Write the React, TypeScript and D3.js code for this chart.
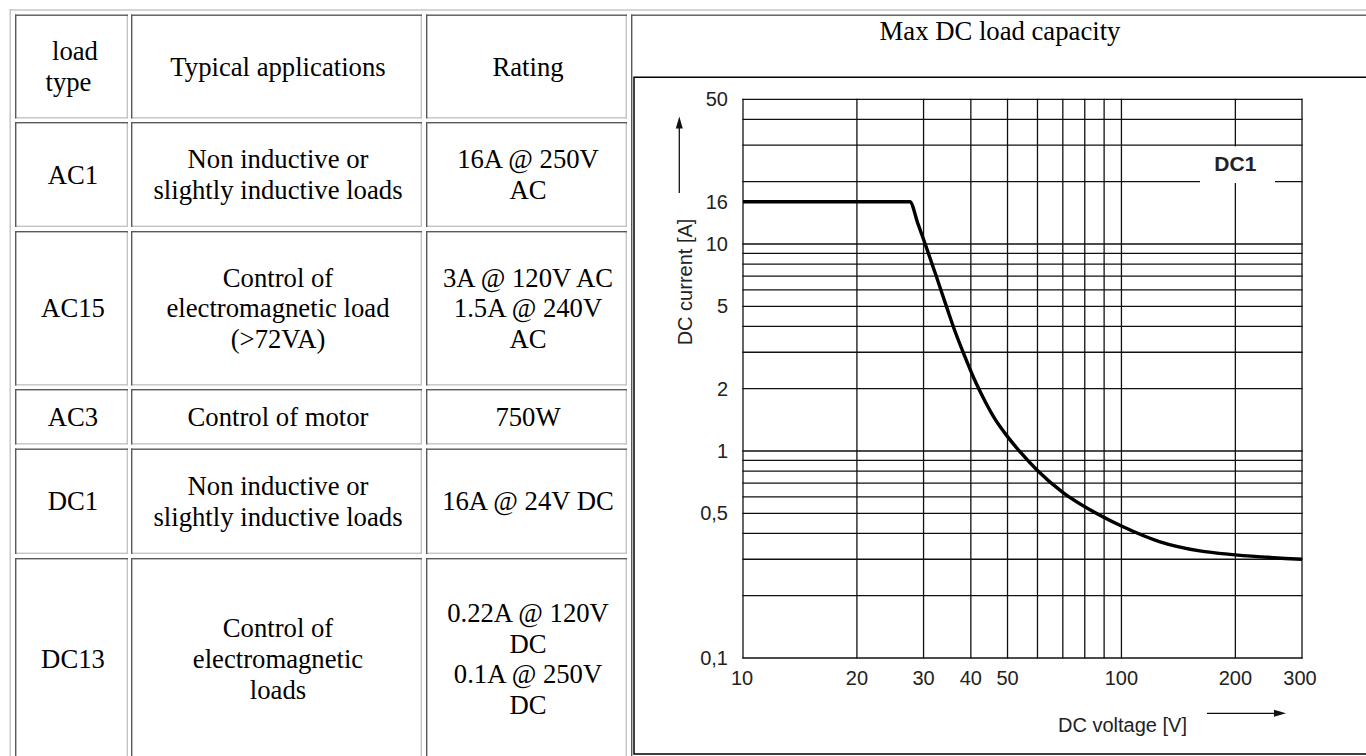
import React, { useEffect, useRef } from "react";
import * as d3 from "d3";

// table content
const headerCells = [["load", "type"], ["Typical applications"], ["Rating"]];
const loadTypes = ["AC1", "AC15", "AC3", "DC1", "DC13"];
const applications = [
  ["Non inductive or", "slightly inductive loads"],
  ["Control of", "electromagnetic load", "(>72VA)"],
  ["Control of motor"],
  ["Non inductive or", "slightly inductive loads"],
  ["Control of", "electromagnetic", "loads"],
];
const ratings = [
  ["16A @ 250V", "AC"],
  ["3A @ 120V AC", "1.5A @ 240V", "AC"],
  ["750W"],
  ["16A @ 24V DC"],
  ["0.22A @ 120V", "DC", "0.1A @ 250V", "DC"],
];

// chart content
const chartTitle = "Max DC load capacity";
const voltageTicks = [10, 20, 30, 40, 50, 100, 200, 300];
const currentTicks = [50, 16, 10, 5, 2, 1, 0.5, 0.1];
const currentTickLabels = ["50", "16", "10", "5", "2", "1", "0,5", "0,1"];
const curveVoltage = [10, 27.6, 29.0, 30.3, 32.4, 34.6, 36.3, 38.6, 41.0, 43.6, 46.3, 49.2, 54.0, 59.8, 70.1, 82.6, 100, 126.5, 161, 200, 300];
const curveCurrent = [16, 16, 12.5, 10, 7.0, 4.9, 3.8, 2.85, 2.19, 1.74, 1.43, 1.22, 0.99, 0.81, 0.63, 0.52, 0.434, 0.364, 0.329, 0.315, 0.3];
const seriesLabel = "DC1";

const W = 1366;
const H = 756;

export default function App() {
  const ref = useRef(null);

  useEffect(() => {
    const svg = d3.select(ref.current);
    svg.selectAll("*").remove();
    svg.attr("width", W).attr("height", H);

    const serif = "'Liberation Serif', 'Times New Roman', serif";
    const sans = "'Liberation Sans', Arial, Helvetica, sans-serif";
    const fs = 26.7;
    const lh = 30.7;
    const bw = 1.4;

    svg.append("rect").attr("width", W).attr("height", H).attr("fill", "#fff");

    // outer table border (outset: only top/left are on screen)
    svg.append("rect").attr("x", 9.5).attr("y", 9.3).attr("width", W).attr("height", bw).attr("fill", "#c4c4c4");
    svg.append("rect").attr("x", 9.5).attr("y", 9.3).attr("width", bw).attr("height", H).attr("fill", "#c4c4c4");

    const colX = [[15, 128], [131, 422], [426, 627]];
    const rowY = [[14.5, 118.5], [122, 227], [231, 385.5], [389, 444.5], [448.5, 554], [558, 760]];

    const cell = (x0, y0, x1, y1) => {
      const g = svg.append("g");
      g.append("rect").attr("x", x0).attr("y", y1 - bw).attr("width", x1 - x0).attr("height", bw).attr("fill", "#c4c4c4");
      g.append("rect").attr("x", x1 - bw).attr("y", y0).attr("width", bw).attr("height", y1 - y0).attr("fill", "#c4c4c4");
      g.append("rect").attr("x", x0).attr("y", y0).attr("width", x1 - x0).attr("height", bw).attr("fill", "#595959");
      g.append("rect").attr("x", x0).attr("y", y0).attr("width", bw).attr("height", y1 - y0).attr("fill", "#595959");
    };

    const cellText = (lines, x0, y0, x1, y1, offsets) => {
      const cx = (x0 + x1) / 2 + 1.5;
      const top = (y0 + y1) / 2 - (lines.length * lh) / 2;
      svg
        .append("g")
        .selectAll("text")
        .data(lines)
        .enter()
        .append("text")
        .attr("x", (d, i) => cx + (offsets ? offsets[i] : 0))
        .attr("y", (d, i) => top + i * lh + 24.4)
        .attr("text-anchor", "middle")
        .style("font-family", serif)
        .style("font-size", fs + "px")
        .attr("fill", "#000")
        .text((d) => d);
    };

    const rows = [headerCells].concat(
      loadTypes.map((t, i) => [[t], applications[i], ratings[i]])
    );

    rows.forEach((row, r) => {
      const [y0, y1] = rowY[r];
      row.forEach((lines, c) => {
        const [x0, x1] = colX[c];
        cell(x0, y0, x1, y1);
        const offs = r === 0 && c === 0 ? [2, -4.5] : null;
        cellText(lines, x0, y0, x1, y1, offs);
      });
    });

    // chart cell (rowspan)
    cell(631, 14.5, 1369, 760);
    svg
      .append("text")
      .attr("x", 1000)
      .attr("y", 40)
      .attr("text-anchor", "middle")
      .style("font-family", serif)
      .style("font-size", fs + "px")
      .text(chartTitle);

    // image frame
    svg
      .append("path")
      .attr("d", `M${W + 10},77.3 H634 V754 H${W + 10}`)
      .attr("fill", "none")
      .attr("stroke", "#000")
      .attr("stroke-width", 1.5);

    const x = d3.scaleLog().domain([10, 300]).range([743, 1302]);
    const y = d3.scaleLog().domain([0.1, 50]).range([658, 99.3]);

    const grid = svg.append("g").attr("stroke", "#111").attr("stroke-width", 1.3);
    grid
      .selectAll("line.v")
      .data(x.ticks())
      .enter()
      .append("line")
      .attr("class", "v")
      .attr("x1", (d) => x(d))
      .attr("x2", (d) => x(d))
      .attr("y1", y(0.1) + 0.6)
      .attr("y2", y(50) - 0.6);
    grid
      .selectAll("line.h")
      .data(y.ticks())
      .enter()
      .append("line")
      .attr("class", "h")
      .attr("x1", x(10) - 0.6)
      .attr("x2", x(300) + 0.6)
      .attr("y1", (d) => y(d))
      .attr("y2", (d) => y(d));

    // gap behind the DC1 label
    svg
      .append("rect")
      .attr("x", 1200)
      .attr("y", y(30) + 1.2)
      .attr("width", 75)
      .attr("height", y(20) - y(30) + 0.2)
      .attr("fill", "#fff");
    svg
      .append("text")
      .attr("x", x(200))
      .attr("y", 171)
      .attr("text-anchor", "middle")
      .style("font-family", sans)
      .style("font-size", "21px")
      .style("font-weight", "bold")
      .attr("fill", "#222")
      .text(seriesLabel);

    // curve
    const pts = curveVoltage.map((v, i) => [v, curveCurrent[i]]);
    const line = d3
      .line()
      .x((d) => x(d[0]))
      .y((d) => y(d[1]))
      .curve(d3.curveMonotoneX);
    svg
      .append("path")
      .datum(pts)
      .attr("d", line)
      .attr("fill", "none")
      .attr("stroke", "#000")
      .attr("stroke-width", 3.4)
      .attr("stroke-linejoin", "round");

    // tick labels
    svg
      .append("g")
      .selectAll("text")
      .data(currentTicks)
      .enter()
      .append("text")
      .attr("x", 728)
      .attr("y", (d) => y(d) + 7)
      .attr("text-anchor", "end")
      .style("font-family", sans)
      .style("font-size", "20px")
      .attr("fill", "#222")
      .text((d, i) => currentTickLabels[i]);
    svg
      .append("g")
      .selectAll("text")
      .data(voltageTicks)
      .enter()
      .append("text")
      .attr("x", (d) => (d === 10 ? x(d) - 1 : d === 300 ? x(d) - 2 : x(d)))
      .attr("y", 685)
      .attr("text-anchor", "middle")
      .style("font-family", sans)
      .style("font-size", "20px")
      .attr("fill", "#222")
      .text((d) => d);

    // axis titles with arrows
    svg
      .append("text")
      .attr("transform", "translate(692,282) rotate(-90)")
      .attr("text-anchor", "middle")
      .style("font-family", sans)
      .style("font-size", "20px")
      .attr("fill", "#222")
      .text("DC current [A]");
    svg.append("line").attr("x1", 679.3).attr("x2", 679.3).attr("y1", 193).attr("y2", 126).attr("stroke", "#111").attr("stroke-width", 1.3);
    svg.append("path").attr("d", "M679.3,116.5 L675.8,128.5 L682.8,128.5 Z").attr("fill", "#111");

    svg
      .append("text")
      .attr("x", 1122.5)
      .attr("y", 732)
      .attr("text-anchor", "middle")
      .style("font-family", sans)
      .style("font-size", "20px")
      .attr("fill", "#222")
      .text("DC voltage [V]");
    svg.append("line").attr("x1", 1207).attr("x2", 1275).attr("y1", 713.3).attr("y2", 713.3).attr("stroke", "#111").attr("stroke-width", 1.3);
    svg.append("path").attr("d", "M1286,713.3 L1274,709.8 L1274,716.8 Z").attr("fill", "#111");
  }, []);

  return (
    <div style={{ position: "fixed", left: 0, top: 0, width: W, height: H, overflow: "hidden", background: "#fff" }}>
      <svg ref={ref} style={{ display: "block" }}></svg>
    </div>
  );
}
